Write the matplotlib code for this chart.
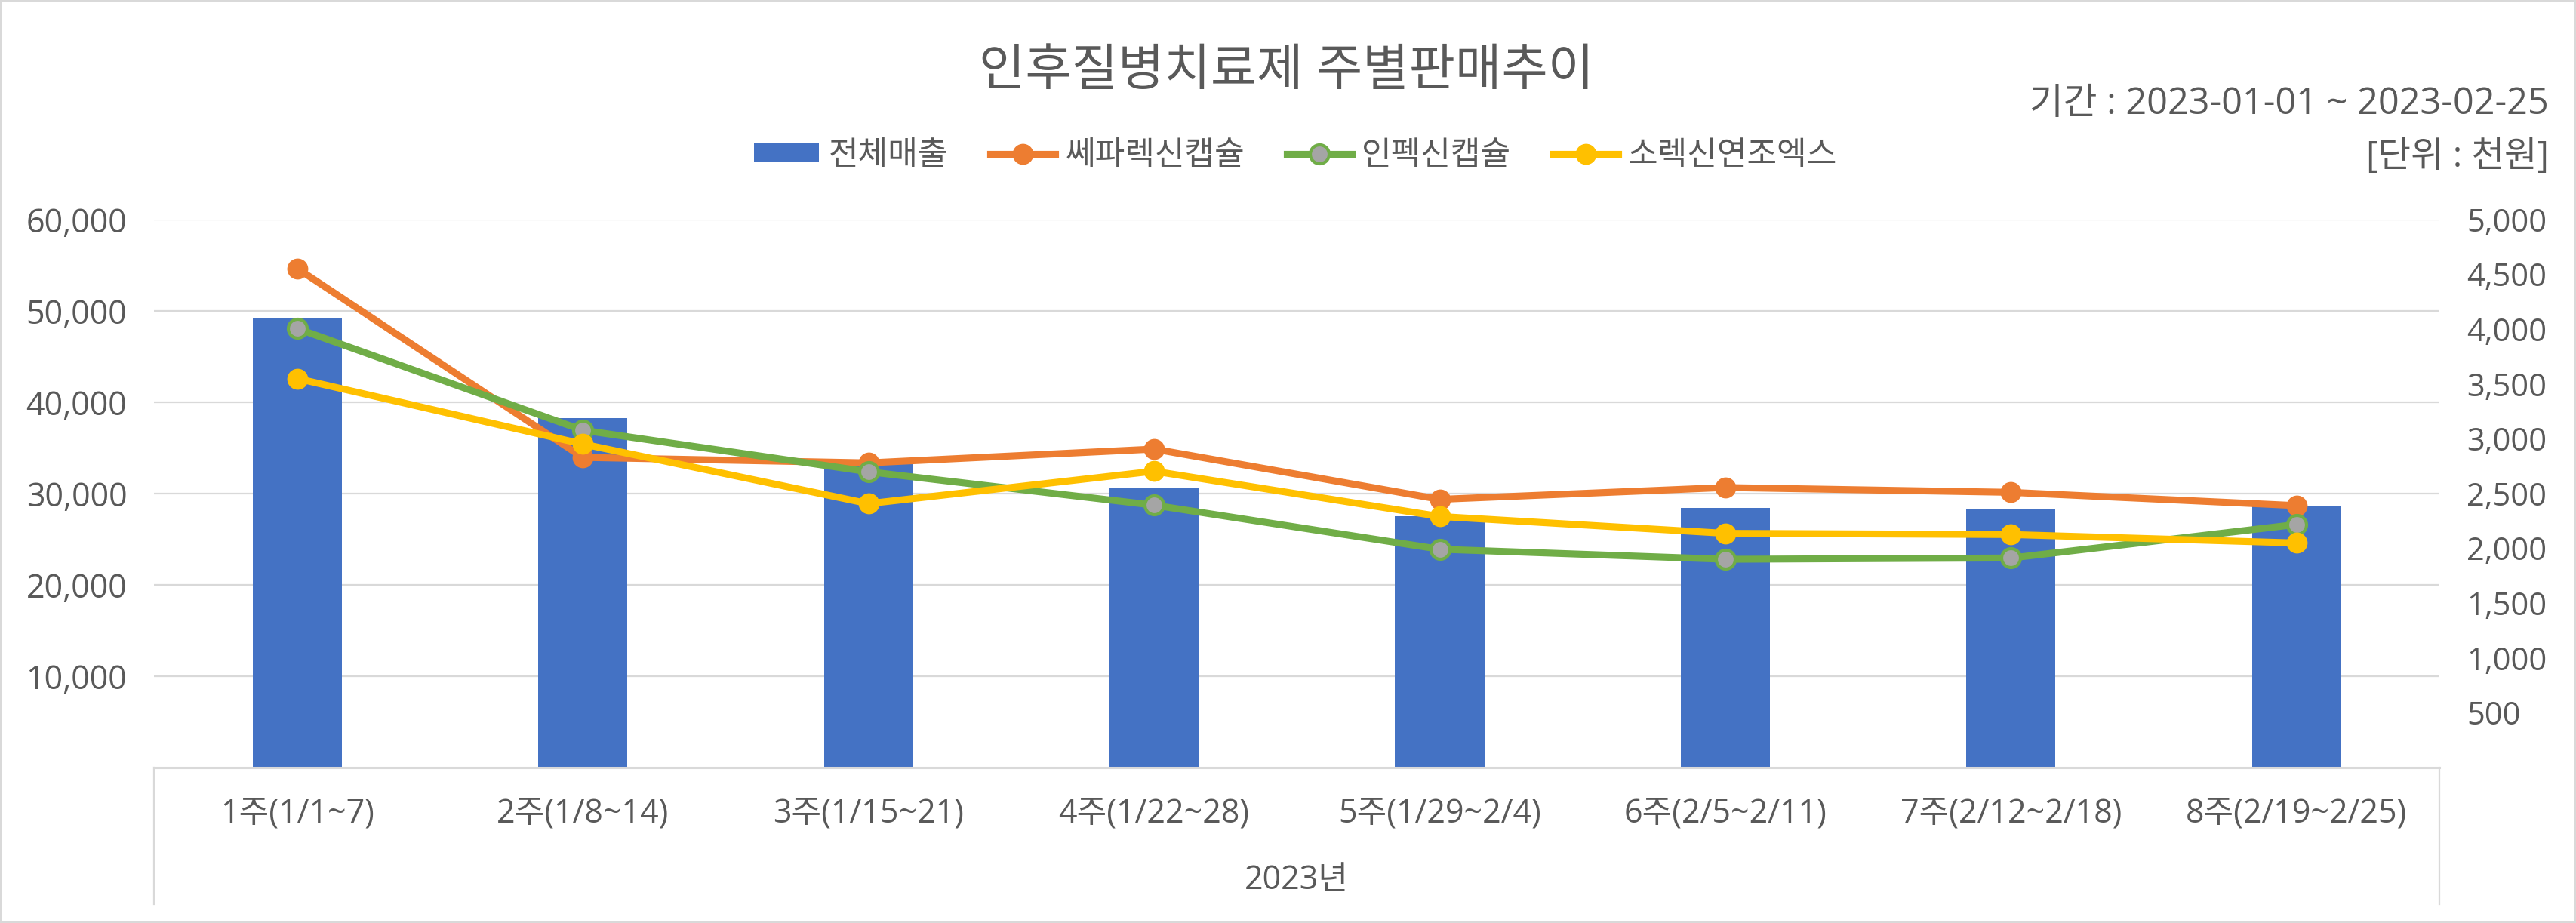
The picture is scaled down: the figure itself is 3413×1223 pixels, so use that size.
import matplotlib
matplotlib.use('Agg')
import matplotlib.pyplot as plt
from matplotlib.lines import Line2D
from matplotlib.patches import Patch
import matplotlib.transforms as mtransforms
from matplotlib.ticker import FuncFormatter

plt.rcParams['font.family'] = ['Open Sans', 'Noto Sans CJK KR', 'DejaVu Sans']

# Data (읽은 값: 전체매출은 왼쪽 축, 제품별은 오른쪽 축, 단위 천원)
weeks = ['1주(1/1~7)', '2주(1/8~14)', '3주(1/15~21)', '4주(1/22~28)',
         '5주(1/29~2/4)', '6주(2/5~2/11)', '7주(2/12~2/18)', '8주(2/19~2/25)']
total_sales = [49200, 38250, 33600, 30650, 27500, 28450, 28250, 28650]
sepa = [4554, 2829, 2779, 2905, 2446, 2554, 2510, 2389]
inpec = [4005, 3077, 2698, 2393, 1991, 1899, 1911, 2217]
sorex = [3549, 2951, 2407, 2703, 2290, 2136, 2125, 2048]

left_ticks = [10000, 20000, 30000, 40000, 50000, 60000]
right_ticks = [500, 1000, 1500, 2000, 2500, 3000, 3500, 4000, 4500, 5000]

text_col = '#595959'
grid_col = '#D9D9D9'
blue = '#4472C4'
orange = '#ED7D31'
green = '#70AD47'
gray = '#A5A5A5'
yellow = '#FFC000'

fig = plt.figure(figsize=(17.065, 6.115), dpi=200)
fig.patch.set_edgecolor(grid_col)
fig.patch.set_linewidth(1.5)

ax = fig.add_axes([0.0599, 0.1686, 0.8871, 0.5936])
ax2 = ax.twinx()

x = list(range(len(weeks)))
ax.bar(x, total_sales, width=0.312, color=blue, zorder=2)

lw = 3.3
ms = 9
ax2.plot(x, sepa, color=orange, lw=lw, marker='o', ms=ms, zorder=3)
ax2.plot(x, inpec, color=green, lw=lw, marker='o', ms=ms, mfc=gray, mec=green, mew=1.5, zorder=3)
ax2.plot(x, sorex, color=yellow, lw=lw, marker='o', ms=ms, zorder=3)

ax.set_xlim(-0.5, len(weeks) - 0.5)
ax.set_ylim(0, 60000)
ax2.set_ylim(0, 5000)

fmt = FuncFormatter(lambda v, p: f'{int(v):,}')
ax.set_yticks(left_ticks)
ax.yaxis.set_major_formatter(fmt)
ax2.set_yticks(right_ticks)
ax2.yaxis.set_major_formatter(fmt)
for lab in ax2.get_yticklabels():
	lab.set_horizontalalignment('left')

ax.grid(axis='y', color=grid_col, lw=0.8, zorder=0)
ax.set_axisbelow(True)

ax.set_xticks(x)
ax.set_xticklabels(weeks)
ax.tick_params(axis='x', length=0, pad=14, labelsize=15.5, labelcolor=text_col)
ax.tick_params(axis='y', length=0, pad=13, labelsize=15.5, labelcolor=text_col)
ax2.tick_params(axis='y', length=0, pad=13, labelsize=15, labelcolor=text_col)

for a in (ax, ax2):
	for s in ('top', 'left', 'right', 'bottom'):
		a.spines[s].set_visible(False)
ax.spines['bottom'].set_visible(True)
ax.spines['bottom'].set_color(grid_col)
ax.spines['bottom'].set_linewidth(1.1)

# 카테고리 축 경계선
trans = mtransforms.blended_transform_factory(ax.transData, ax.transAxes)
for xv in (-0.5, len(weeks) - 0.5):
	ax.plot([xv, xv], [0, -0.2496], transform=trans, color=grid_col, lw=0.8, clip_on=False)

ax.text(0.5, -0.2065, '2023년', transform=ax.transAxes, ha='center', va='center',
	fontsize=15.5, color=text_col)

fig.text(0.4995, 0.922, '인후질병치료제 주별판매추이', ha='center', va='center',
	fontsize=24, color=text_col)
fig.text(0.9895, 0.887, '기간 : 2023-01-01 ~ 2023-02-25', ha='right', va='center',
	fontsize=17.5, color=text_col)
fig.text(0.9895, 0.830, '[단위 : 천원]', ha='right', va='center',
	fontsize=17, color=text_col)

handles = [
	Patch(facecolor=blue, edgecolor='none', label='전체매출'),
	Line2D([], [], color=orange, lw=lw, marker='o', ms=ms, label='쎄파렉신캡슐'),
	Line2D([], [], color=green, lw=lw, marker='o', ms=ms, mfc=gray, mec=green, mew=1.5, label='인펙신캡슐'),
	Line2D([], [], color=yellow, lw=lw, marker='o', ms=ms, label='소렉신연조엑스'),
]
leg = fig.legend(handles=handles, loc='center', bbox_to_anchor=(0.503, 0.831), ncol=4,
	frameon=False, fontsize=15.5, handlelength=2.0, handleheight=0.5,
	handletextpad=0.3, columnspacing=1.3, borderpad=0)
for t in leg.get_texts():
	t.set_color(text_col)

fig.savefig('out.png', dpi=200, facecolor='white', edgecolor=fig.get_edgecolor())
